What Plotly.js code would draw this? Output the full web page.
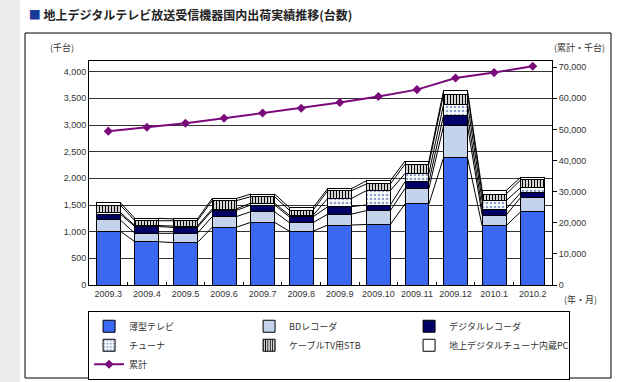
<!DOCTYPE html>
<html><head><meta charset="utf-8">
<script src="https://cdn.plot.ly/plotly-3.0.1.min.js"></script>
<style>html,body{margin:0;padding:0;background:#fff;}#chart{width:640px;height:382px;}</style>
</head><body><div id="chart"></div>
<script>
const months = ['2009.3','2009.4','2009.5','2009.6','2009.7','2009.8','2009.9','2009.10','2009.11','2009.12','2010.1','2010.2'];
const flatTV   = [1010, 810, 795, 1080, 1175, 1010, 1125, 1135, 1520, 2385, 1110, 1375];
const bdRec    = [ 210, 160, 175,  200,  200,  160,  205,  260,  290,  600,  200,  270];
const digRec   = [ 110, 125, 110,  115,  125,  110,  140,  105,  125,  200,  115,   85];
const tuner    = [  30,  20,  25,   30,   35,   30,  155,  270,  155,  205,  155,  100];
const catvSTB  = [ 140,  90, 100,  155,  120,   95,  145,  125,  175,  190,  125,  140];
const dtvPC    = [  45,  45,  35,   40,   50,   50,   40,   60,   60,   65,   65,   50];
const cumulative = [49450, 50700, 52000, 53600, 55300, 56800, 58650, 60600, 62800, 66550, 68270, 70300];

const names = ['薄型テレビ','BDレコーダ','デジタルレコーダ','チューナ','ケーブルTV用STB','地上デジタルチューナ内蔵PC'];
const series = [flatTV, bdRec, digRec, tuner, catvSTB, dtvPC];
const fills = ['#3a68f0','#c3d3ec','#000066','#ffffff','#ffffff','#ffffff'];
const patterns = [null, null, null,
  {shape:'.', fgcolor:'#8ea4cc', bgcolor:'#ffffff', size:4, solidity:0.35},
  {shape:'|', fgcolor:'#000000', bgcolor:'#ffffff', size:3, solidity:0.45},
  null];

const x = months.map((m,i)=>i);
const bargap = 0.38;
const hw = (1-bargap)/2;
const font = 'Liberation Sans, Noto Sans CJK JP, sans-serif';
const jfont = 'Noto Sans CJK JP, sans-serif';

const traces = [];
series.forEach((s,k)=>{
  const mk = {color: fills[k], line:{color:'#000', width:1}};
  if (patterns[k]) mk.pattern = patterns[k];
  traces.push({type:'bar', x:x, y:s, name:names[k], marker:mk, yaxis:'y', hoverinfo:'skip'});
});
// series lines connecting segment tops
const cum = [];
let run = months.map(()=>0);
series.forEach(s=>{ run = run.map((v,i)=>v+s[i]); cum.push(run.slice()); });
cum.forEach(c=>{
  const lx=[], ly=[];
  for (let i=0;i<months.length-1;i++){ lx.push(i+hw, i+1-hw, null); ly.push(c[i], c[i+1], null); }
  traces.push({type:'scatter', mode:'lines', x:lx, y:ly, line:{color:'#000', width:1}, showlegend:false, hoverinfo:'skip', yaxis:'y'});
});
traces.push({type:'scatter', mode:'lines+markers', x:x, y:cumulative, name:'累計', yaxis:'y2',
  line:{color:'#7a0a7a', width:2}, marker:{symbol:'diamond', size:7, color:'#7a0a7a'}});

const layout = {
  width:640, height:382,
  margin:{l:89, r:88, t:61, b:97, autoexpand:false},
  paper_bgcolor:'#fff', plot_bgcolor:'#fff',
  barmode:'stack', bargap:bargap,
  showlegend:true,
  title:{text:'<span style="color:#1a3a9a">■</span> 地上デジタルテレビ放送受信機器国内出荷実績推移(台数)',
    xref:'container', x:0.045, xanchor:'left', yref:'container', y:1-16/382, yanchor:'middle',
    font:{family:jfont, size:12, color:'#222', weight:'bold'}},
  xaxis:{range:[-0.5,11.5], tickvals:x, ticktext:months, showgrid:false, zeroline:false,
    showline:true, linecolor:'#000', linewidth:1, mirror:true, ticks:'',
    tickfont:{family:font, size:9, color:'#333'},
    minor:{tickvals:x.slice(0,-1).map(v=>v+0.5), ticks:'inside', ticklen:3, tickcolor:'#000'}},
  yaxis:{range:[0,4200], dtick:500, tickformat:',', showgrid:true, gridcolor:'#333', gridwidth:1,
    zeroline:false, showline:true, linecolor:'#000', linewidth:1, mirror:true, ticks:'',
    tickfont:{family:font, size:9, color:'#333'}},
  yaxis2:{range:[0,72000], tickvals:[0,10000,20000,30000,40000,50000,60000,70000], tickformat:',',
    overlaying:'y', side:'right', showgrid:false, zeroline:false, showline:false,
    ticks:'outside', ticklen:4, tickcolor:'#000',
    tickfont:{family:font, size:9, color:'#333'}},
  legend:{orientation:'h', x:-0.002, xanchor:'left', y:-0.115, yanchor:'top',
    bordercolor:'#000', borderwidth:1, bgcolor:'#fff',
    entrywidth:115, entrywidthmode:'pixels', traceorder:'normal',
    font:{family:jfont, size:9, color:'#333'}, itemwidth:30},
  shapes:[
    {type:'rect', xref:'paper', yref:'paper', x0:(25-89)/463, x1:(611-89)/463, y0:(285-378)/224, y1:(285-33)/224,
      line:{color:'#000', width:1}, layer:'below'},
    {type:'rect', xref:'paper', yref:'paper', x0:(0-89)/463, x1:(20-89)/463, y0:(285-382)/224, y1:(285-0)/224,
      line:{width:0}, fillcolor:'#ececec', layer:'below'}
  ],
  annotations:[
    {text:'(千台)', xref:'paper', yref:'paper', x:(48-89)/463, y:(285-47)/224, xanchor:'left', yanchor:'middle', showarrow:false, font:{family:jfont, size:9, color:'#333'}},
    {text:'(累計・千台)', xref:'paper', yref:'paper', x:(607-89)/463, y:(285-47)/224, xanchor:'right', yanchor:'middle', showarrow:false, font:{family:jfont, size:9, color:'#333'}},
    {text:'(年・月)', xref:'paper', yref:'paper', x:(562-89)/463, y:(285-299)/224, xanchor:'left', yanchor:'middle', showarrow:false, font:{family:jfont, size:9, color:'#333'}}
  ]
};
Plotly.newPlot('chart', traces, layout, {staticPlot:true, displayModeBar:false});
</script></body></html>
